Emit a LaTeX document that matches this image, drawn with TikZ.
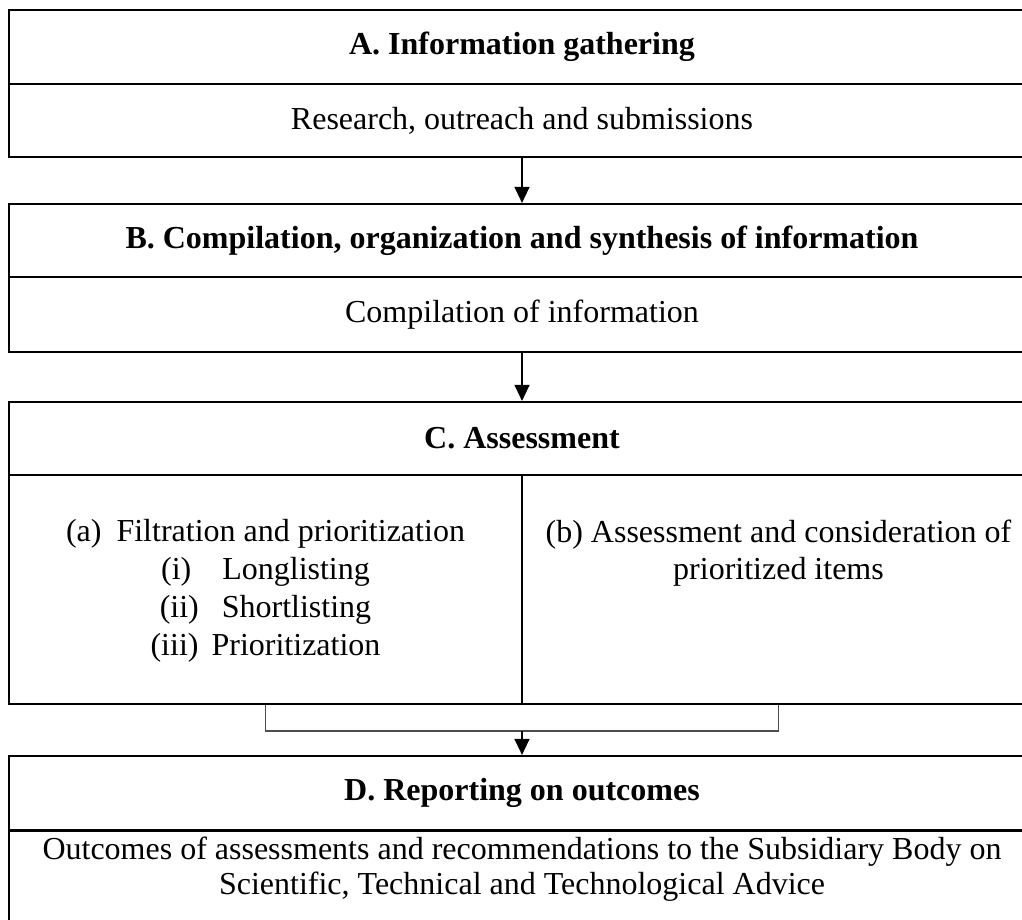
\documentclass[tikz,border=0pt]{standalone}
\usepackage{fontspec}
\setmainfont{Liberation Serif}
\usetikzlibrary{arrows.meta}
\begin{document}
\begin{tikzpicture}[x=1pt,y=-1pt,
  box/.style={draw, line width=2.2pt, minimum width=1026pt, inner sep=0pt},
  half/.style={draw, line width=2.2pt, minimum width=513pt, minimum height=229pt, inner sep=0pt},
  txt/.style={font=\fontsize{32}{38}\selectfont, align=center},
  hd/.style={font=\fontsize{32}{38}\selectfont\bfseries},
  arr/.style={line width=1.3pt, -{Triangle[length=16pt,width=15pt]}},
  brk/.style={line width=1.1pt, black!70}]
\useasboundingbox (0,0) rectangle (1022,919);
\clip (0,0) rectangle (1022,919);
% A
\node[box, hd, minimum height=74pt] (Ahead) at (522,47) {A. Information gathering};
\node[box, txt, minimum height=73pt] (Abody) at (522,120.5) {Research, outreach and submissions};
% B
\node[box, hd, minimum height=73pt] (Bhead) at (522,240.5) {B. Compilation, organization and synthesis of information};
\node[box, txt, minimum height=75pt] (Bbody) at (522,314.5) {Compilation of information};
% C
\node[box, hd, minimum height=73pt] (Chead) at (522,438.5) {C. Assessment};
\node[half] (Cleft) at (265.5,589.5) {};
\node[half] (Cright) at (778.5,589.5) {};
\node[txt] (Catext) at (265.5,590.5) {(a)\hspace{15pt}Filtration and prioritization\\
(i)\hspace{31pt}Longlisting\\
(ii)\hspace{23pt}Shortlisting\\
(iii)\hspace{13pt}Prioritization};
\node[txt, font=\fontsize{32}{37}\selectfont] (Cbtext) at (778.5,553.5) {(b) Assessment and consideration of\\ prioritized items};
% D
\node[box, hd, minimum height=74pt] (Dhead) at (522,793) {D. Reporting on outcomes};
\node[box, minimum height=130pt, anchor=north] (Dbody) at (522,830) {};
\node[txt, font=\fontsize{32}{35}\selectfont] (Dtext) at (522,869.5) {Outcomes of assessments and recommendations to the Subsidiary Body on\\ Scientific, Technical and Technological Advice};
% connectors
\draw[arr] (Abody.south) -- (Bhead.north);
\draw[arr] (Bbody.south) -- (Chead.north);
\coordinate (bm) at (522,731);
\draw[brk] (Cleft.south) -- (Cleft.south |- bm) -- (Cright.south |- bm) -- (Cright.south);
\draw[arr] (bm) -- (Dhead.north);
\end{tikzpicture}
\end{document}
